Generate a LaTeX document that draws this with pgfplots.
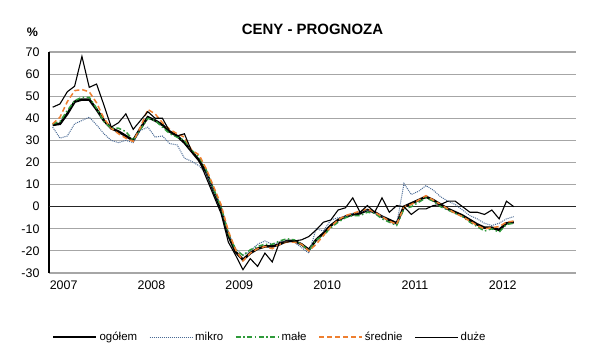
\documentclass[border=0pt]{standalone}
\usepackage{fontspec}
\setmainfont{Liberation Sans}
\usepackage{pgfplots}
\usepackage{pgfplotstable}
\pgfplotsset{compat=1.18}
\definecolor{mikroc}{HTML}{4A6A95}
\definecolor{malec}{HTML}{2E9A3A}
\definecolor{sredc}{HTML}{EE7F30}
\definecolor{gridc}{HTML}{A6A6A6}
\pgfplotstableread{
i og mi ma sr du
0 37 36 37.5 37.5 45
1 37.5 31 38.5 40.5 46.5
2 42 32 43.5 47.5 52
3 47.5 37.5 48 52.5 54.5
4 48.5 39 49.5 53 68
5 48.5 40.5 49.5 52 54
6 44 37 44.5 47 55.5
7 39 33 38.5 40 46
8 35.5 30 35.5 35.5 36
9 34 29 35.5 33 38
10 32 30 34 31 42
11 30 29 30 29.5 35
12 35.5 34.5 35 36 39
13 40.5 36 40 44 43
14 39 31.5 39 42 40
15 37 32 36 38 40
16 34 28.5 33 35 34
17 32 28 31.5 33 32
18 29 22 30 31.5 33
19 25 20.5 25.5 25.5 25
20 21 18.5 22.5 23.5 21
21 15.5 15 16.5 17 13
22 7 7 8 9 5
23 -1 0 0 1 -3
24 -13 -12 -12 -11 -16
25 -20.5 -19 -19.5 -19.5 -22
26 -24 -22 -22 -24.5 -28.5
27 -21 -20 -19.5 -21 -23.5
28 -19 -17 -18 -19 -27
29 -18 -15.5 -17 -18 -21
30 -18 -17 -17 -19 -25
31 -17 -16 -15.5 -17 -16
32 -15.5 -15.5 -14.5 -16 -16
33 -15.5 -16 -15 -16 -15.5
34 -17 -18.5 -17 -17 -15
35 -19.5 -21 -20 -20 -13.5
36 -15 -10 -15 -17 -10.5
37 -12 -11 -13 -13 -7
38 -8.5 -6 -9.5 -9 -6
39 -6 -5 -7 -6 -1.5
40 -4.5 -4.5 -5 -4 -0.5
41 -3.5 -3 -4 -3 4
42 -3 -2.5 -4 -2 -2.5
43 -1.5 -1.5 -2.5 -1 0.5
44 -2.5 -3 -3 -2.5 -2.5
45 -4.5 -4.5 -5.5 -4.5 4
46 -6 -7 -7 -6.5 -2.5
47 -7.5 -8 -8.5 -8 0.5
48 0 10.5 -1 0 0
49 1.5 5.5 0 1 -3.5
50 3 7 2 3 -1
51 4.5 9.5 4 5 -1
52 3 7.5 2.5 3 0.5
53 1 4.5 0 1 1
54 -1 2.5 -1.5 -1 2.5
55 -2.5 1 -3 -3 2.5
56 -4 -1.5 -4.5 -4.5 0
57 -6 -4 -7 -6.5 -2.5
58 -8 -5.5 -9 -8.5 -2.5
59 -9.5 -7.5 -11 -10 -3.5
60 -9.5 -8.5 -10 -9.5 -1.5
61 -10.5 -7.5 -11.5 -9 -5.5
62 -7.5 -5.5 -8 -7 2.5
63 -7 -4.5 -7.5 -6.5 0
}\data
\begin{document}
\begin{tikzpicture}
\useasboundingbox (-49bp,-90bp) rectangle (550bp,273bp);
\begin{axis}[
  at={(0,0)}, anchor=south west,
  scale only axis, width=527bp, height=221bp,
  xmin=-0.5, xmax=71.5, ymin=-30, ymax=70,
  ytick={-30,-20,...,70},
  xtick={1.5,13.5,25.5,37.5,49.5,61.5},
  xticklabels={2007,2008,2009,2010,2011,2012},
  major tick length=0pt,
  /pgf/number format/assume math mode=true,
  tick label style={font=\fontsize{12.5}{14}\selectfont, black},
  yticklabel style={xshift=-6bp},
  xticklabel style={yshift=-4bp},
  ymajorgrids, grid style={gridc, line width=1.1pt},
  extra y ticks={0}, extra y tick labels={},
  extra y tick style={grid style={black!85, line width=1.4pt}},
  axis lines*=left,
  x axis line style={-, draw=gridc, line width=1.1pt},
  y axis line style={-, black, line width=1.4pt},
  title={\bfseries CENY - PROGNOZA},
  title style={font=\fontsize{15}{17}\selectfont\bfseries, at={(0.5,1)}, anchor=south, yshift=8bp},
  legend columns=5,
  legend style={at={(0.419,-0.29)}, anchor=center, draw=none, font=\fontsize{11.5}{14}\selectfont,
    /tikz/every even column/.append style={column sep=10bp}},
  legend image code/.code={\draw[#1] (0bp,0bp) -- (43bp,0bp);},
  clip=false,
]
\addplot[black, line width=2.5bp] table[x=i, y=og] {\data};
\addlegendentry{ogółem}
\addplot[mikroc, line width=1bp, densely dotted] table[x=i, y=mi] {\data};
\addlegendentry{mikro}
\addplot[malec, line width=1.5bp, dash pattern=on 5bp off 2.5bp on 1.5bp off 2.5bp] table[x=i, y=ma] {\data};
\addlegendentry{małe}
\addplot[sredc, line width=1.5bp, dash pattern=on 5bp off 3bp] table[x=i, y=sr] {\data};
\addlegendentry{średnie}
\addplot[black, line width=1.1bp] table[x=i, y=du] {\data};
\addlegendentry{duże}
\node[font=\fontsize{12.5}{14}\selectfont\bfseries] at (rel axis cs:0,1) [xshift=-16.5bp, yshift=19.5bp] {\%};
\end{axis}
\end{tikzpicture}
\end{document}
